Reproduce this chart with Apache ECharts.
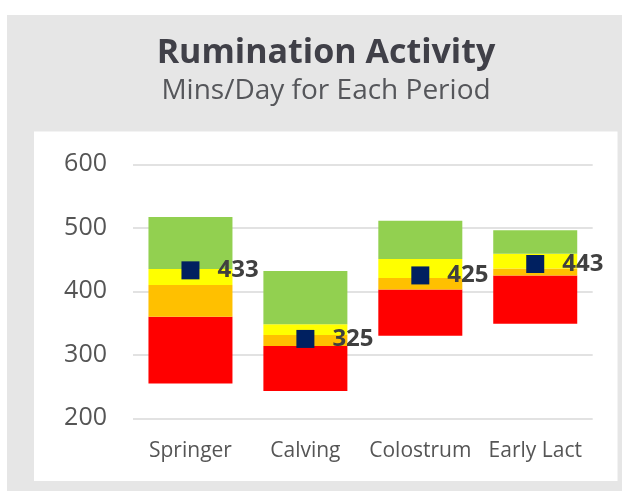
<!DOCTYPE html>
<html>
<head>
<meta charset="utf-8">
<script src="https://cdn.jsdelivr.net/npm/echarts@6/dist/echarts.min.js"></script>
<style>
html,body{margin:0;padding:0;background:#fff;}
#chart{width:622px;height:491px;}
</style>
</head>
<body>
<div id="chart"></div>
<script>
// Data
var categories = ['Springer', 'Calving', 'Colostrum', 'Early Lact'];
var rangeBottom = [255, 243, 330, 349];   // bottom of red band
var redTop      = [360, 314, 403, 425];
var orangeTop   = [410, 331, 421, 436];
var yellowTop   = [435, 348, 451, 459];
var greenTop    = [517, 432, 511, 496];
var actual      = [433, 325, 425, 443];
var yTicks      = [200, 300, 400, 500, 600];

function diff(a, b) { return a.map(function (v, i) { return v - b[i]; }); }

var chart = echarts.init(document.getElementById('chart'), null, { renderer: 'canvas' });
var FONT = 'Open Sans';
var option = {
  backgroundColor: '#ffffff',
  animation: false,
  graphic: [
    { type: 'rect', z: -100, silent: true, shape: { x: 7, y: 15, width: 615, height: 476 }, style: { fill: '#e6e6e6' } },
    { type: 'rect', z: -99, silent: true, shape: { x: 34, y: 131.5, width: 583.5, height: 349.5 }, style: { fill: '#ffffff' } }
  ],
  title: {
    text: 'Rumination Activity',
    subtext: 'Mins/Day for Each Period',
    left: 321, textAlign: 'center', top: 31, itemGap: 7,
    textStyle: { fontFamily: FONT, fontWeight: 'bold', fontSize: 34, color: '#404048' },
    subtextStyle: { fontFamily: FONT, fontWeight: 'normal', fontSize: 28, color: '#55565a' }
  },
  grid: { left: 133, right: 29.3, top: 164.3, bottom: 72.7, containLabel: false },
  xAxis: {
    type: 'category', data: categories,
    axisLine: { show: false }, axisTick: { show: false },
    axisLabel: { interval: 0, fontFamily: FONT, fontSize: 21, color: '#555555', margin: 22 }
  },
  yAxis: {
    type: 'value', min: yTicks[0], max: yTicks[yTicks.length - 1], interval: 100,
    axisLine: { show: false }, axisTick: { show: false },
    axisLabel: { fontFamily: FONT, fontSize: 25, color: '#555555', margin: 26 },
    splitLine: { lineStyle: { color: '#d9d9d9', width: 1.5 } }
  },
  series: [
    { name: 'base', type: 'bar', stack: 'r', barWidth: 84, itemStyle: { color: 'rgba(0,0,0,0)' }, data: rangeBottom, silent: true },
    { name: 'red', type: 'bar', stack: 'r', itemStyle: { color: '#ff0000' }, data: diff(redTop, rangeBottom) },
    { name: 'orange', type: 'bar', stack: 'r', itemStyle: { color: '#ffc000' }, data: diff(orangeTop, redTop) },
    { name: 'yellow', type: 'bar', stack: 'r', itemStyle: { color: '#ffff00' }, data: diff(yellowTop, orangeTop) },
    { name: 'green', type: 'bar', stack: 'r', itemStyle: { color: '#92d050' }, data: diff(greenTop, yellowTop) },
    {
      name: 'actual', type: 'scatter', symbol: 'rect', symbolSize: 18, z: 10,
      itemStyle: { color: '#002060', opacity: 1 },
      label: { show: true, position: 'right', distance: 18, fontFamily: FONT, fontWeight: 'bold', fontSize: 24, color: '#404040' },
      data: actual
    }
  ]
};
chart.setOption(option);
</script>
</body>
</html>
